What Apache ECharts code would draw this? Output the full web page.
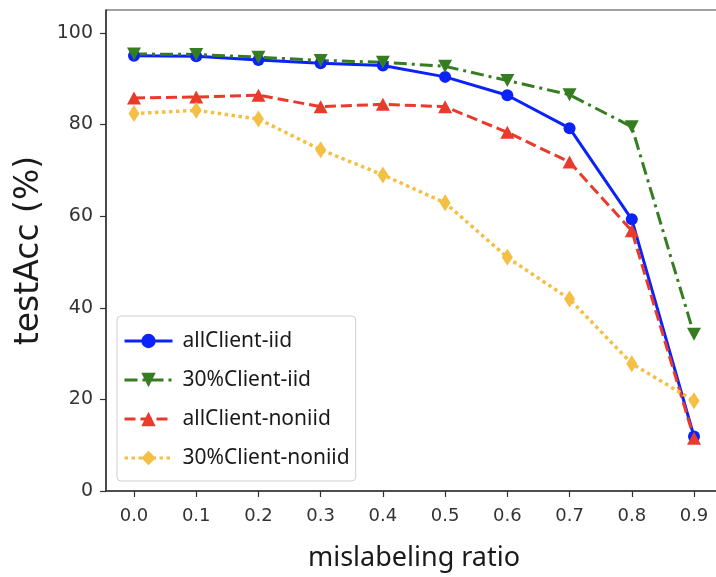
<!DOCTYPE html>
<html>
<head>
<meta charset="utf-8">
<script src="https://cdn.jsdelivr.net/npm/echarts@6/dist/echarts.min.js"></script>
<style>
  html, body { margin: 0; padding: 0; background: #fff; overflow: hidden; }
  #chart { width: 740px; height: 577px; }
</style>
</head>
<body>
<div id="chart"></div>
<script>
// mislabeling ratio on the x axis
const ratios = [0.0, 0.1, 0.2, 0.3, 0.4, 0.5, 0.6, 0.7, 0.8, 0.9];
const yTicks = [0, 20, 40, 60, 80, 100];

// test accuracy (%) for each setting
const allClientIid     = [95.0, 94.9, 94.1, 93.4, 92.9, 90.4, 86.4, 79.2, 59.3, 11.9];
const client30Iid      = [95.4, 95.3, 94.7, 94.0, 93.6, 92.7, 89.6, 86.5, 79.5, 34.2];
const allClientNoniid  = [85.8, 86.0, 86.4, 83.9, 84.4, 83.9, 78.3, 71.8, 56.8, 11.5];
const client30Noniid   = [82.4, 83.1, 81.2, 74.5, 69.0, 62.9, 51.0, 41.9, 27.8, 19.7];

const seriesNames = ['allClient-iid', '30%Client-iid', 'allClient-noniid', '30%Client-noniid'];

const pairs = vals => ratios.map((r, i) => [r, vals[i]]);

const downTriangle = 'path://M0,0 L10,0 L5,9 Z';

function makeSeries(name, vals, color, dash, width, symbol, size) {
  return {
    name: name,
    type: 'line',
    data: pairs(vals),
    symbol: symbol,
    symbolSize: size,
    showSymbol: true,
    lineStyle: { color: color, width: width, type: dash },
    itemStyle: { color: color, borderWidth: 0 },
    emphasis: { disabled: true },
    z: 2
  };
}

const chart = echarts.init(document.getElementById('chart'), null, { renderer: 'canvas' });

chart.setOption({
  animation: false,
  backgroundColor: '#ffffff',
  grid: {
    left: 106, top: 10, width: 616, height: 485,
    show: true, borderColor: '#444', borderWidth: 1.2, backgroundColor: 'transparent'
  },
  xAxis: {
    type: 'value',
    min: -0.045, max: 0.945,
    name: 'mislabeling ratio',
    nameLocation: 'middle',
    nameGap: 54,
    nameTextStyle: { fontFamily: 'Noto Sans', fontSize: 27, color: '#1a1a1a' },
    axisLine: { show: true, onZero: false, lineStyle: { color: '#333', width: 1.5 } },
    axisTick: { show: true, length: 6, lineStyle: { color: '#333', width: 1.2 }, customValues: ratios },
    axisLabel: {
      customValues: ratios,
      formatter: v => v.toFixed(1),
      fontFamily: 'DejaVu Sans', fontSize: 18, color: '#333', margin: 16
    },
    splitLine: { show: false }
  },
  yAxis: {
    type: 'value',
    min: 0, max: 105,
    name: 'testAcc (%)',
    nameLocation: 'middle',
    nameGap: 60,
    nameTextStyle: { fontFamily: 'DejaVu Sans', fontSize: 33, color: '#1a1a1a' },
    axisLine: { show: true, onZero: false, lineStyle: { color: '#333', width: 1.5 } },
    axisTick: { show: true, length: 6, lineStyle: { color: '#333', width: 1.2 }, customValues: yTicks },
    axisLabel: {
      customValues: yTicks,
      fontFamily: 'DejaVu Sans', fontSize: 19, color: '#333', margin: 13
    },
    splitLine: { show: false }
  },
  legend: {
    orient: 'vertical',
    left: 117, top: 316,
    data: seriesNames,
    itemWidth: 48, itemHeight: 18, itemGap: 15,
    padding: [13, 6, 11, 6],
    backgroundColor: 'rgba(255,255,255,0.85)',
    borderColor: '#d0d0d0', borderWidth: 1, borderRadius: 4,
    lineStyle: { width: 3 },
    textStyle: {
      fontFamily: 'Noto Sans', fontSize: 21, color: '#1a1a1a',
      lineHeight: 24, padding: [0, 0, 0, 5]
    },
    z: 10
  },
  series: [
    makeSeries(seriesNames[0], allClientIid,    '#0b22f8', 'solid',           3,   'circle',   12),
    makeSeries(seriesNames[1], client30Iid,     '#367d22', [13, 5, 3, 5],     3,   downTriangle, [14, 13]),
    makeSeries(seriesNames[2], allClientNoniid, '#ea3a2c', [11, 5],           3,   'triangle', [14, 13]),
    makeSeries(seriesNames[3], client30Noniid,  '#f3bf45', [3.5, 3.5],        3.5, 'diamond',  [11, 17])
  ]
});
</script>
</body>
</html>
